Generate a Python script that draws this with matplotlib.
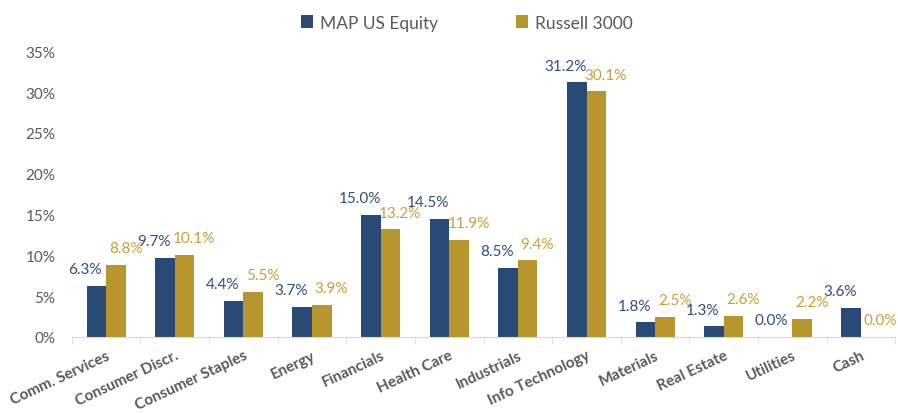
import numpy as np
import matplotlib.pyplot as plt
from matplotlib.ticker import FuncFormatter

# Sector weights (%)
sectors = ["Comm. Services", "Consumer Discr.", "Consumer Staples", "Energy",
           "Financials", "Health Care", "Industrials", "Info Technology",
           "Materials", "Real Estate", "Utilities", "Cash"]
map_us_equity = [6.3, 9.7, 4.4, 3.7, 15.0, 14.5, 8.5, 31.2, 1.8, 1.3, 0.0, 3.6]
russell_3000 = [8.8, 10.1, 5.5, 3.9, 13.2, 11.9, 9.4, 30.1, 2.5, 2.6, 2.2, 0.0]
series_names = ["MAP US Equity", "Russell 3000"]

blue = "#284a74"
gold = "#b8962e"
blue_txt = "#2f4d7e"
gold_txt = "#c8a038"
grey_txt = "#595959"

plt.rcParams['font.family'] = ['Lato', 'DejaVu Sans']

fig = plt.figure(figsize=(8.98, 4.14), dpi=100)
ax = fig.add_axes([0.080, 0.1836, 0.917, 0.690])

x = np.arange(len(sectors))
w = 0.285
b1 = ax.bar(x - w / 2, map_us_equity, w, color=blue, label=series_names[0], zorder=2)
b2 = ax.bar(x + w / 2, russell_3000, w, color=gold, label=series_names[1], zorder=2)

# value labels, nudged sideways like the original
for bars, vals, col, dx in [(b1, map_us_equity, blue_txt, -8), (b2, russell_3000, gold_txt, 7)]:
    for rect, v in zip(bars, vals):
        cx = rect.get_x() + rect.get_width() / 2
        ax.annotate(f"{v:.1f}%", (cx, v), xytext=(dx, 12), textcoords="offset points",
                    ha="center", va="center", fontsize=11, color=col)

ax.set_xlim(-0.5, len(sectors) - 0.5)
ax.set_ylim(0, 35)
ax.set_yticks(np.arange(0, 36, 5))
ax.yaxis.set_major_formatter(FuncFormatter(lambda v, p: f"{v:.0f}%"))
ax.tick_params(axis="y", length=0, labelsize=11, labelcolor=grey_txt, pad=12)

ax.set_xticks(x)
ax.set_xticklabels(sectors, rotation=25, ha="right", rotation_mode="anchor",
                   fontsize=11, fontweight="bold", color=grey_txt)
ax.tick_params(axis="x", which="major", length=0, pad=8)
ax.set_xticks(np.arange(-0.5, len(sectors), 1), minor=True)
ax.tick_params(axis="x", which="minor", length=5, color="#d9d9d9")

for s in ["top", "right", "left"]:
    ax.spines[s].set_visible(False)
ax.spines["bottom"].set_color("#d9d9d9")

fig.legend(handles=[b1, b2], loc="upper center", bbox_to_anchor=(0.52, 1.0), ncol=2,
           frameon=False, fontsize=12.5, handlelength=0.7, handleheight=0.7,
           handletextpad=0.4, columnspacing=4.5, labelcolor=grey_txt)

fig.savefig("out.png", dpi=100)
